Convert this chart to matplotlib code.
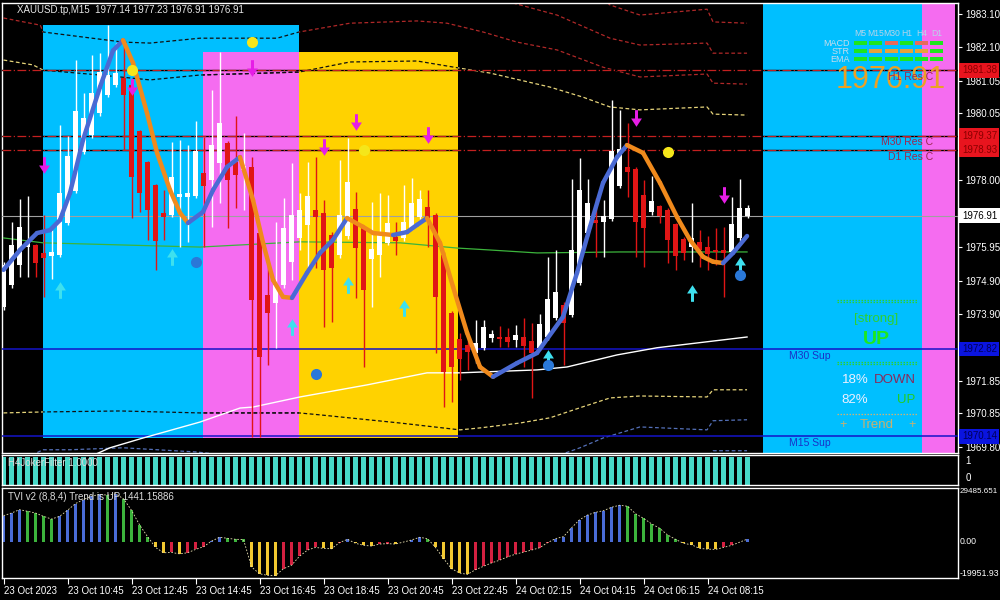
import matplotlib
matplotlib.use('Agg')
import matplotlib.pyplot as plt
import numpy as np
from matplotlib.patches import Rectangle
from matplotlib.path import Path

plt.rcParams['font.family'] = ['Liberation Sans', 'DejaVu Sans']

# ---------------- price bars (XAUUSD M15) ----------------
opens = [1974.11, 1974.79, 1975.40, 1975.95, 1976.01, 1975.77, 1975.68, 1975.71, 1976.69, 1977.67,
         1978.87, 1979.39, 1980.06, 1980.62, 1980.92, 1981.14, 1980.92, 1979.51, 1978.56, 1977.86,
         1977.00, 1976.93, 1977.49, 1977.49, 1977.52, 1978.22, 1978.01, 1978.53, 1979.14, 1978.56,
         1978.32, 1978.41, 1976.38, 1974.48, 1974.24, 1974.79, 1975.49, 1976.23, 1976.63, 1977.09,
         1977.00, 1976.32, 1975.71, 1976.29, 1977.12, 1976.54, 1975.59, 1975.71, 1976.08, 1976.26,
         1976.23, 1976.54, 1976.87, 1977.18, 1976.93, 1975.71, 1973.93, 1973.13, 1972.95, 1972.70,
         1972.86, 1973.16, 1973.19, 1973.19, 1973.10, 1973.19, 1973.07, 1972.86, 1973.19, 1973.78,
         1974.17, 1973.87, 1974.85, 1976.38, 1976.78, 1976.72, 1976.81, 1977.82, 1978.41, 1978.35,
         1977.55, 1977.03, 1977.21, 1977.09, 1976.66, 1976.20, 1975.95, 1976.11, 1975.95, 1975.86,
         1975.86, 1975.80, 1976.23, 1976.91]
highs = [1975.49, 1976.72, 1977.43, 1977.52, 1976.05, 1976.93, 1976.47, 1979.70, 1979.36, 1981.69,
         1980.68, 1981.84, 1981.90, 1982.76, 1982.21, 1982.30, 1980.95, 1979.55, 1978.60, 1977.90,
         1977.70, 1979.17, 1979.24, 1979.08, 1979.82, 1979.33, 1980.77, 1981.93, 1979.20, 1979.97,
         1979.45, 1978.71, 1976.42, 1975.46, 1976.72, 1977.46, 1978.53, 1977.60, 1978.56, 1978.71,
         1977.39, 1976.40, 1978.62, 1979.30, 1977.64, 1976.60, 1977.33, 1977.61, 1977.55, 1976.72,
         1977.86, 1978.07, 1977.70, 1977.70, 1977.00, 1975.80, 1974.00, 1973.30, 1973.32, 1973.71,
         1973.71, 1973.41, 1973.53, 1973.47, 1973.56, 1973.78, 1973.62, 1973.90, 1975.65, 1975.86,
         1974.25, 1978.04, 1978.68, 1978.04, 1977.46, 1977.39, 1980.46, 1980.16, 1979.76, 1978.40,
         1978.01, 1978.13, 1977.25, 1977.15, 1976.70, 1976.25, 1977.30, 1976.47, 1976.29, 1976.54,
         1976.57, 1977.49, 1978.04, 1977.23]
lows = [1974.02, 1974.70, 1975.03, 1975.03, 1975.03, 1974.42, 1974.97, 1975.65, 1976.62, 1977.60,
        1978.80, 1979.30, 1979.98, 1980.55, 1980.85, 1978.93, 1976.84, 1977.03, 1976.17, 1975.25,
        1976.17, 1976.88, 1975.95, 1976.11, 1977.45, 1975.95, 1976.57, 1977.30, 1976.54, 1977.15,
        1977.09, 1970.12, 1970.12, 1972.33, 1972.86, 1974.70, 1974.94, 1975.85, 1975.31, 1975.31,
        1973.50, 1973.65, 1975.60, 1976.20, 1974.39, 1972.27, 1974.11, 1975.03, 1976.00, 1975.71,
        1976.15, 1976.48, 1976.80, 1975.95, 1972.70, 1971.05, 1971.20, 1971.87, 1972.18, 1972.40,
        1972.80, 1973.04, 1972.89, 1972.89, 1972.89, 1972.27, 1971.32, 1972.80, 1973.10, 1973.70,
        1972.33, 1973.80, 1974.78, 1976.30, 1975.65, 1975.65, 1976.75, 1977.75, 1977.49, 1975.65,
        1975.34, 1976.93, 1976.69, 1975.46, 1975.25, 1975.55, 1975.49, 1975.34, 1975.25, 1975.40,
        1974.42, 1975.74, 1976.15, 1976.85]
closes = [1975.40, 1976.01, 1976.57, 1976.11, 1975.46, 1975.62, 1975.80, 1977.61, 1978.74, 1980.13,
          1979.91, 1980.68, 1981.32, 1981.23, 1981.29, 1980.62, 1978.10, 1977.61, 1977.09, 1976.14,
          1976.87, 1978.10, 1977.58, 1977.61, 1978.90, 1977.82, 1979.08, 1979.76, 1978.01, 1978.16,
          1978.44, 1974.33, 1972.58, 1973.93, 1974.79, 1976.54, 1976.93, 1977.09, 1977.52, 1976.87,
          1975.25, 1975.31, 1976.93, 1977.95, 1975.92, 1974.63, 1975.89, 1976.38, 1976.69, 1976.14,
          1976.72, 1977.30, 1977.43, 1976.84, 1974.42, 1972.12, 1972.27, 1972.52, 1972.73, 1973.01,
          1973.50, 1973.29, 1973.13, 1973.04, 1973.25, 1972.92, 1972.70, 1973.59, 1974.36, 1974.57,
          1973.62, 1975.86, 1977.70, 1977.30, 1976.69, 1976.90, 1978.90, 1978.96, 1978.25, 1976.72,
          1976.54, 1977.36, 1976.90, 1976.17, 1975.68, 1975.77, 1976.23, 1975.86, 1975.74, 1975.80,
          1975.77, 1976.66, 1977.15, 1977.14]

x_tick_bars = [0, 8, 16, 24, 32, 40, 48, 56, 64, 72, 80, 88]
x_tick_labels = ['23 Oct 2023', '23 Oct 10:45', '23 Oct 12:45', '23 Oct 14:45', '23 Oct 16:45',
                 '23 Oct 18:45', '23 Oct 20:45', '23 Oct 22:45', '24 Oct 02:15', '24 Oct 04:15',
                 '24 Oct 06:15', '24 Oct 08:15']
price_ticks = [1983.10, 1982.10, 1981.05, 1980.05, 1978.00, 1975.95, 1974.90, 1973.90,
               1971.85, 1970.85, 1969.80]

# ---------------- indicator lines (bar index, price) ----------------
hma_x = [0, 2.06, 4.19, 5.81, 7.06, 8.31, 9.94, 12.06, 13.69, 14.94, 16.19, 17.94, 19.19, 20.81,
         22.06, 23.06, 24.94, 26.19, 27.94, 29.56, 31.19, 32.44, 33.69, 34.94, 36.06, 37.94, 39.56,
         41.19, 42.94, 44.94, 46.19, 48.69, 50.44, 51.69, 52.94, 54.56, 56.19, 57.94, 59.56, 61.19,
         64.19, 66.69, 69.94, 71.69, 73.31, 74.94, 76.69, 77.94, 79.94, 82.06, 84.19, 85.81, 87.44,
         88.69, 89.94, 91.19, 92.94]
hma_y = [1975.25, 1975.86, 1976.38, 1976.47, 1976.78, 1977.61, 1979.24, 1980.86, 1981.98, 1982.30,
         1981.60, 1980.06, 1978.84, 1977.70, 1977.00, 1976.69, 1977.03, 1977.70, 1978.41, 1978.71,
         1977.39, 1976.08, 1974.94, 1974.42, 1974.39, 1975.16, 1975.77, 1976.17, 1976.84, 1976.57,
         1976.38, 1976.32, 1976.41, 1976.63, 1976.84, 1976.08, 1974.73, 1973.32, 1972.27, 1971.97,
         1972.39, 1972.70, 1973.81, 1975.16, 1976.57, 1977.92, 1978.71, 1979.08, 1978.84, 1977.92,
         1976.87, 1976.17, 1975.65, 1975.50, 1975.46, 1975.77, 1976.29]

white_ma_x = [11.4, 13.31, 17.44, 24.56, 29.56, 31.19, 37.06, 45.44, 52.94, 57.06, 66.69, 70.44,
              76.69, 81.69, 92.94]
white_ma_y = [1969.58, 1969.79, 1970.09, 1970.58, 1971.01, 1971.04, 1971.35, 1971.72, 1972.09,
              1972.09, 1972.18, 1972.27, 1972.64, 1972.86, 1973.19]

green_ma_x = [0, 4.94, 24.56, 37.06, 49.56, 56.69, 60.81, 66.69, 77, 92.94]
green_ma_y = [1976.23, 1976.08, 1975.95, 1976.11, 1976.08, 1975.92, 1975.86, 1975.77, 1975.80, 1975.80]

band_mid_up_x = [0, 3.69, 4.94, 12.06, 18.31, 24.56, 36.94, 43.31, 51.69, 57.06, 60.81, 68.31,
                 72.44, 75.81, 79.56, 87.94, 88.69, 92.94]
band_mid_up_y = [1981.69, 1981.54, 1981.38, 1981.23, 1981.08, 1981.23, 1981.32, 1981.63, 1981.66,
                 1981.44, 1981.29, 1980.86, 1980.55, 1980.25, 1980.16, 1980.25, 1980.03, 1980.00]
band_mid_dn_x = [0, 4.94, 14.56, 24.56, 36.94, 39.56, 49.56, 57.06, 59.56, 64.56, 68.31, 72.44,
                 75.81, 79.56, 87.94, 88.69, 92.94]
band_mid_dn_y = [1970.86, 1970.89, 1970.92, 1970.86, 1970.86, 1970.80, 1970.55, 1970.34, 1970.40,
                 1970.55, 1970.71, 1971.05, 1971.32, 1971.38, 1971.35, 1971.57, 1971.57]
band_out1_up_x = [0, 4.6, 4.94, 14.94, 18.31, 24.56, 34.19, 36.94, 43.31, 51.69, 55.44, 59.94,
                  64.19, 69.19, 74.94, 79.56, 87.94, 88.69, 92.94]
band_out1_up_y = [1982.98, 1982.76, 1982.55, 1982.24, 1982.21, 1982.36, 1982.36, 1982.55, 1982.82,
                  1982.89, 1982.82, 1982.55, 1982.24, 1982.00, 1981.47, 1981.17, 1981.26, 1980.98,
                  1980.95]
band_out1_dn_x = [0, 4.94, 8.31, 14.94, 24.19, 30.81, 43.31, 59.94, 69.19, 72.06, 74.94, 79.56,
                  87.94, 88.69, 92.94]
band_out1_dn_y = [1969.15, 1969.73, 1969.73, 1969.79, 1969.66, 1969.48, 1969.36, 1969.17, 1969.54,
                  1969.79, 1970.09, 1970.43, 1970.34, 1970.62, 1970.65]
band_out2_up_x = [60.81, 63.69, 69.19, 75.81, 79.56, 87.94, 88.69, 92.94]
band_out2_up_y = [1983.68, 1983.44, 1983.07, 1982.36, 1982.15, 1982.21, 1981.90, 1981.90]
band_out2_dn_x = [87.06, 87.94, 88.69, 92.94]
band_out2_dn_y = [1969.42, 1969.39, 1969.70, 1969.70]
band_out3_up_x = [74.56, 75.81, 79.56, 87.94, 88.69, 92.94]
band_out3_up_y = [1983.62, 1983.38, 1983.07, 1983.25, 1982.86, 1982.82]

res_levels = [1981.38, 1979.37, 1978.93]
res_names = ['H1 Res C', 'M30 Res C', 'D1 Res C']
sup_levels = [1972.82, 1970.14]
sup_names = ['M30 Sup', 'M15 Sup']
last_price = 1976.91

sell_arrow_x = [5, 16, 31, 40, 44, 53, 79, 90]
sell_arrow_y = [1978.47, 1980.86, 1981.44, 1979.02, 1979.79, 1979.38, 1979.91, 1977.55]
buy_arrow_x = [7, 21, 36, 43, 50, 68, 86, 92]
buy_arrow_y = [1974.63, 1975.65, 1973.50, 1974.79, 1974.08, 1972.55, 1974.54, 1975.40]
yellow_dot_x = [16, 31, 45, 83]
yellow_dot_y = [1981.38, 1982.24, 1978.93, 1978.87]
blue_dot_x = [24, 39, 68, 92]
blue_dot_y = [1975.49, 1972.06, 1972.33, 1975.09]

# session / zone boxes: bar-index span and price span
zone_x0 = [4.94, 24.94, 36.94, 94.94, 114.81]
zone_x1 = [36.94, 36.94, 56.81, 114.81, 118.94]
zone_lo = [1970.09, 1970.09, 1970.09, 1969.0, 1969.0]
zone_hi = [1982.76, 1981.93, 1981.93, 1984.0, 1984.0]
zone_colors = ['#00bfff', '#f56cf0', '#ffd200', '#00bfff', '#f56cf0']

# dashboard
tf_names = ['M5', 'M15', 'M30', 'H1', 'H4', 'D1']
sig_rows = ['MACD', 'STR', 'EMA']
sig_macd = ['g', 'g', 's', 'g', 's', 'g']
sig_str = ['g', 'o', 'o', 'o', 'o', 'g']
sig_ema = ['g', 'g', 'g', 'g', 'g', 'g']
pct_down = 18
pct_up = 82

# sub windows
joker_filter = [1, 1, 1, 1, 1, 1, 1, 1, 1, 1, 1, 1, 1, 1, 1, 1, 1, 1, 1, 1,
                1, 1, 1, 1, 1, 1, 1, 1, 1, 1, 1, 1, 1, 1, 1, 1, 1, 1, 1, 1,
                1, 1, 1, 1, 1, 1, 1, 1, 1, 1, 1, 1, 1, 1, 1, 1, 1, 1, 1, 1,
                1, 1, 1, 1, 1, 1, 1, 1, 1, 1, 1, 1, 1, 1, 1, 1, 1, 1, 1, 1,
                1, 1, 1, 1, 1, 1, 1, 1, 1, 1, 1, 1, 1, 1]
tvi = [14270, 15750, 17600, 16680, 15750, 13900, 12420, 13900, 17230, 20940,
       23160, 25020, 25940, 25570, 26310, 23530, 17230, 9260, 2780, -3150,
       -6110, -5900, -6700, -6100, -4260, -2780, 300, 2400, 1850, 1300,
       1200, -13900, -17600, -18530, -18600, -14820, -12970, -7970, -4630, -3150,
       -3700, -3900, -500, 1300, -900, -2000, -2400, -1300, -1100, -1300,
       -200, 930, 2400, 1670, -3150, -9270, -14820, -17230, -17970, -15380,
       -13530, -11670, -10190, -8340, -6860, -5740, -4630, -3340, -560, 1670,
       2780, 7600, 12040, 14640, 16120, 17050, 18900, 20010, 19460, 15380,
       12790, 9820, 7410, 3710, 1300, -930, -1670, -3710, -4080, -4260,
       -3150, -2040, -300, 1441]
tvi_top = 29485.651
tvi_bottom = -19951.93

# ---------------- figure layout ----------------
W, H = 1000, 600
BG = 'black'
fig = plt.figure(figsize=(10, 6), dpi=100, facecolor=BG)


def rect(x0, y0, x1, y1):
    return [x0 / W, 1 - y1 / H, (x1 - x0) / W, (y1 - y0) / H]


ax = fig.add_axes(rect(2, 3, 958, 453))
ax2 = fig.add_axes(rect(2, 455, 958, 485))
ax3 = fig.add_axes(rect(2, 488, 958, 578))
XL = (-0.19, 119.31)
YL = (1969.63, 1983.44)

for a in (ax, ax2, ax3):
    a.set_facecolor(BG)
    for s in a.spines.values():
        s.set_color('white')
        s.set_linewidth(1)


def fx(px):
    return (px - 2) / 956


def fy(py):
    return (453 - py) / 450


TA = ax.transAxes
YT = ax.get_yaxis_transform()

# bands
red_b, blue_b, yel_b = '#b02828', '#5470b8', '#e6d47a'
bands = [(band_out3_up_x, band_out3_up_y, red_b), (band_out2_up_x, band_out2_up_y, red_b),
         (band_out1_up_x, band_out1_up_y, red_b), (band_mid_up_x, band_mid_up_y, yel_b),
         (band_mid_dn_x, band_mid_dn_y, yel_b), (band_out1_dn_x, band_out1_dn_y, blue_b),
         (band_out2_dn_x, band_out2_dn_y, blue_b)]
for bx, by, bc in bands:
    ax.plot(bx, by, color=bc, lw=0.9, ls=(0, (3, 2)), zorder=1)

zone_patches = []
for x0, x1, lo, hi, zc in zip(zone_x0, zone_x1, zone_lo, zone_hi, zone_colors):
    r = Rectangle((x0, lo), x1 - x0, hi - lo, facecolor=zc, edgecolor='none', zorder=2)
    ax.add_patch(r)
    zone_patches.append(r)

for bx, by, bc in bands:
    for r in zone_patches[:3]:
        ln, = ax.plot(bx, by, color='#101010', lw=0.9, ls=(0, (3, 2)), zorder=3)
        ln.set_clip_path(r)

for lv in res_levels:
    ax.axhline(lv, color='black', lw=1.0, zorder=3)
    ax.axhline(lv, color='#c42020', lw=0.9, ls=(0, (7, 2, 1, 2)), zorder=3.1)
for lv in sup_levels:
    ax.axhline(lv, color='#1414c8', lw=1.1, zorder=4)
ax.axhline(last_price, color='#a0a0a0', lw=0.8, zorder=4)

ax.plot(green_ma_x, green_ma_y, color='#3cb43c', lw=0.9, zorder=4)
ax.plot(white_ma_x, white_ma_y, color='white', lw=1.0, zorder=4)

# candles
o, h, l, c = map(np.asarray, (opens, highs, lows, closes))
idx = np.arange(len(o))
up = c >= o
ccol = np.where(up, '#ffffff', '#e01515')
ax.vlines(idx, l, h, colors=ccol, lw=1.0, zorder=5)
ax.bar(idx, np.maximum(np.abs(c - o), 0.05), bottom=np.minimum(o, c), width=0.62,
       color=ccol, linewidth=0, zorder=5.1)

# smoothed trend line
for k in range(len(hma_x) - 1):
    col = '#4a6ad4' if hma_y[k + 1] >= hma_y[k] else '#f08a1c'
    ax.plot(hma_x[k:k + 2], hma_y[k:k + 2], color=col, lw=3.2, solid_capstyle='round', zorder=6)

# arrows & dots
dn = Path([(-0.18, 1), (0.18, 1), (0.18, 0.0), (0.65, 0.0), (0, -1), (-0.65, 0.0), (-0.18, 0.0), (-0.18, 1)])
upp = Path([(-0.18, -1), (0.18, -1), (0.18, 0.0), (0.65, 0.0), (0, 1), (-0.65, 0.0), (-0.18, 0.0), (-0.18, -1)])
ax.plot(sell_arrow_x, sell_arrow_y, ls='none', marker=dn, ms=12, color='#e61ee6', mec='none', zorder=7)
ax.plot(buy_arrow_x, buy_arrow_y, ls='none', marker=upp, ms=12, color='#3ee0ee', mec='none', zorder=7)
ax.plot(yellow_dot_x, yellow_dot_y, ls='none', marker='o', ms=8, color='#f5e61a', mec='none', zorder=7)
ax.plot(blue_dot_x, blue_dot_y, ls='none', marker='o', ms=8, color='#2a78d8', mec='none', zorder=7)

# header
ax.text(fx(17), fy(10), 'XAUUSD.tp,M15  1977.14 1977.23 1976.91 1976.91', color='#e6e6e6',
        fontsize=7, ha='left', va='center', transform=TA, zorder=9)

# big price (behind the level labels)
ax.text(fx(891), fy(80), f'{last_price:.2f}', transform=TA, ha='center', va='center',
        fontsize=22, color='#eba125', zorder=8)

# level labels
for lv, nm in zip(res_levels, res_names):
    ax.text(fx(933), lv - 0.05, nm, transform=YT, ha='right', va='top', fontsize=7.5,
            color='#9c2850', zorder=9)
for lv, nm in zip(sup_levels, sup_names):
    ax.text(fx(789), lv - 0.05, nm, transform=YT, ha='left', va='top', fontsize=7.5,
            color='#1a30c8', zorder=9)

# dashboard (timeframe signals)
dash_x0 = [854, 869, 885, 900, 915, 930]
sig_col = {'g': '#1ee61e', 's': '#e86a5a', 'o': '#e8a23a'}
for name, xx in zip(tf_names, dash_x0):
    ax.text(fx(xx + 6.5), fy(33), name, transform=TA, ha='center', va='center', fontsize=6.2,
            color='#b8d4ea', zorder=9)
for row, sigs, yy in zip(sig_rows, [sig_macd, sig_str, sig_ema], [43, 51, 59]):
    ax.text(fx(850), fy(yy), row, transform=TA, ha='right', va='center', fontsize=6.5,
            color='#c8dcea', zorder=9)
    for s, xx in zip(sigs, dash_x0):
        ax.add_patch(Rectangle((fx(xx), fy(yy + 2)), 13 / 956, 4 / 450, transform=TA,
                               facecolor=sig_col[s], edgecolor='none', zorder=9))

# dashboard (trend box)
for yy in (301, 363):
    for dy in (-1.2, 1.2):
        ax.plot([fx(837), fx(917)], [fy(yy + dy)] * 2, transform=TA, color='#2fd02f',
                lw=0.9, ls=(0, (1.2, 1.2)), zorder=9)
ax.text(fx(876), fy(319), '[strong]', transform=TA, ha='center', va='center', fontsize=9.5,
        color='#2fd02f', zorder=9)
ax.text(fx(876), fy(340), 'UP', transform=TA, ha='center', va='center', fontsize=14,
        fontweight='bold', color='#1ee81e', zorder=9)
ax.text(fx(855), fy(380), f'{pct_down}%', transform=TA, ha='center', va='center', fontsize=9.5,
        color='#eef0ff', zorder=9)
ax.text(fx(895), fy(380), 'DOWN', transform=TA, ha='center', va='center', fontsize=9.5,
        color='#8a2a5a', zorder=9)
ax.text(fx(855), fy(400), f'{pct_up}%', transform=TA, ha='center', va='center', fontsize=9.5,
        color='#eef0ff', zorder=9)
ax.text(fx(906), fy(400), 'UP', transform=TA, ha='center', va='center', fontsize=9.5,
        color='#22cc22', zorder=9)
ax.plot([fx(837), fx(917)], [fy(414)] * 2, transform=TA, color='#c8b478', lw=0.9,
        ls=(0, (1.2, 1.2)), zorder=9)
ax.text(fx(843), fy(425), '+', transform=TA, ha='center', va='center', fontsize=9, color='#c8b070', zorder=9)
ax.text(fx(877), fy(425), 'Trend', transform=TA, ha='center', va='center', fontsize=9.5, color='#c8b070', zorder=9)
ax.text(fx(912), fy(425), '+', transform=TA, ha='center', va='center', fontsize=9, color='#c8b070', zorder=9)

# right price scale
ax.set_xlim(*XL)
ax.set_ylim(*YL)
ax.yaxis.tick_right()
ax.set_yticks(price_ticks)
ax.set_yticklabels([f'{t:.2f}' for t in price_ticks])
ax.tick_params(axis='y', colors='white', labelsize=7, length=3, width=0.8, pad=2)
ax.tick_params(axis='x', bottom=False, labelbottom=False)
box_specs = [(res_levels[0], '#e8141e', '#8a0000'), (res_levels[1], '#e8141e', '#8a0000'),
             (res_levels[2], '#e8141e', '#8a0000'), (last_price, '#ffffff', '#000000'),
             (sup_levels[0], '#0a14e0', '#00005a'), (sup_levels[1], '#0a14e0', '#00005a')]
for lv, fc, tc in box_specs:
    ax.text(1.004, lv, f'{lv:.2f}', transform=YT, ha='left', va='center', fontsize=7, color=tc,
            bbox=dict(boxstyle='square,pad=0.25', fc=fc, ec='none'), zorder=10, clip_on=False)

# H4 Joker filter panel
ax2.bar(idx, joker_filter, width=0.62, color='#48d8c8', linewidth=0)
ax2.set_xlim(*XL)
ax2.set_ylim(0, 1.06)
ax2.set_xticks([])
ax2.set_yticks([])
ax2.text(fx(8), 0.73, 'H4JokerFilter 1.0000', transform=ax2.transAxes, ha='left', va='center',
         fontsize=7, color='#dcdcdc')
ax2.text(1.008, 0.8, '1', transform=ax2.transAxes, ha='left', va='center', fontsize=7, color='white')
ax2.text(1.008, 0.23, '0', transform=ax2.transAxes, ha='left', va='center', fontsize=7, color='white')

# TVI panel
tv = np.asarray(tvi, dtype=float)
prev = np.concatenate([[tv[0] - 1], tv[:-1]])
tcols = np.where(tv >= 0, np.where(tv >= prev, '#4a6cd6', '#3cb43c'),
                 np.where(tv < prev, '#f2c830', '#d42040'))
ax3.bar(idx, tv, width=0.38, color=tcols, linewidth=0)
ax3.plot(idx, tv, color='#e8e0b0', lw=0.6, ls=(0, (2, 2)))
ax3.set_xlim(*XL)
ax3.set_ylim(tvi_bottom, tvi_top)
ax3.set_yticks([])
ax3.text(fx(8), 0.9, 'TVI v2 (8,8,4) Trend is UP 1441.15886', transform=ax3.transAxes,
         ha='left', va='center', fontsize=7, color='#dcdcdc')
for val, txt, va, fs in [(tvi_top, f'{tvi_top:.3f}', 'top', 5.8), (0, '0.00', 'center', 6.3),
                         (tvi_bottom, f'{tvi_bottom:.2f}', 'bottom', 6.3)]:
    ax3.text(1.002, val, txt, transform=ax3.get_yaxis_transform(), ha='left', va=va,
             fontsize=fs, color='white')
ax3.set_xticks(x_tick_bars)
ax3.set_xticklabels(x_tick_labels, ha='left')
ax3.tick_params(axis='x', colors='white', labelsize=7, length=4, width=0.8, pad=2)

fig.savefig('out.png', dpi=100, facecolor=BG)
